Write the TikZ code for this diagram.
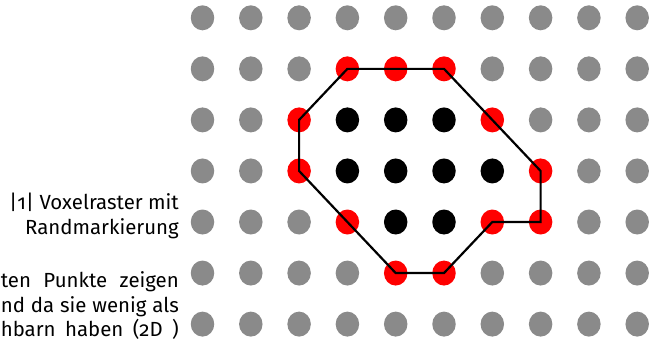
\documentclass[tikz,border=0pt]{standalone}
\usepackage{fontspec}
\setmainfont{Fira Sans}[Numbers=OldStyle]
\usetikzlibrary{shapes.geometric}
\definecolor{dotgray}{RGB}{138,138,138}
\definecolor{dotred}{RGB}{255,0,0}
\begin{document}
\begin{tikzpicture}[x=1bp,y=-1bp,
  vox/.style={ellipse, minimum width=23.5bp, minimum height=25bp, inner sep=0pt, draw=none},
  vg/.style={vox, fill=dotgray},
  vr/.style={vox, fill=dotred},
  vk/.style={vox, fill=black},
  contour/.style={line width=2.2bp, line join=miter, draw=black},
  lbl/.style={inner sep=0pt, font=\fontsize{20.5}{24}\selectfont}]
\useasboundingbox (0,0) rectangle (657,347);
\foreach \r/\row in {
  0/{vg,vg,vg,vg,vg,vg,vg,vg,vg,vg},
  1/{vg,vg,vg,vr,vr,vr,vg,vg,vg,vg},
  2/{vg,vg,vr,vk,vk,vk,vr,vg,vg,vg},
  3/{vg,vg,vr,vk,vk,vk,vk,vr,vg,vg},
  4/{vg,vg,vg,vr,vk,vk,vr,vr,vg,vg},
  5/{vg,vg,vg,vg,vr,vr,vg,vg,vg,vg},
  6/{vg,vg,vg,vg,vg,vg,vg,vg,vg,vg}}{
  \foreach \s [count=\n] in \row {
    \pgfmathtruncatemacro{\c}{\n-1}
    \node[\s] (d-\c-\r) at ({202.5+48.3*\c},{17.8+51.05*\r}) {};
  }
}
\draw[contour] (d-3-1.center) -- (d-5-1.center) -- (d-7-3.center) -- (d-7-4.center)
  -- (d-6-4.center) -- (d-5-5.center) -- (d-4-5.center) -- (d-2-3.center)
  -- (d-2-2.center) -- cycle;
\node[lbl, anchor=base east] (t1) at (179,209.3) {|1| Voxelraster mit};
\node[lbl, anchor=base east] (t2) at (179,234.5) {Randmarkierung};
\node[lbl, anchor=base east] (t3) at (179,287.7) {\makebox[178bp][s]{ten Punkte zeigen}};
\node[lbl, anchor=base east] (t4) at (179,312.7) {\makebox[178bp][s]{nd da sie wenig als}};
\node[lbl, anchor=base east] (t5) at (179,336.7) {\makebox[178bp][s]{hbarn haben (2D )}};
\end{tikzpicture}
\end{document}
